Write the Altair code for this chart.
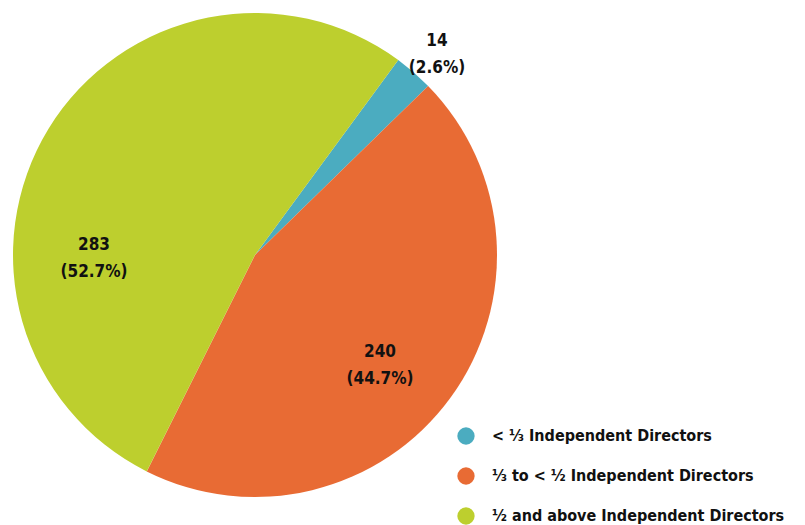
import math
import altair as alt
import pandas as pd

categories = ["< ⅓ Independent Directors", "⅓ to < ½ Independent Directors", "½ and above Independent Directors"]
counts = [14, 240, 283]
percents = ["2.6%", "44.7%", "52.7%"]
colors = ["#4BACC0", "#E86B34", "#BDCF2E"]

df = pd.DataFrame({"category": categories, "count": counts, "pct": percents, "order": [0, 1, 2]})

FONT = "DejaVu Sans Condensed, Roboto Condensed, Arial Narrow, Roboto, sans-serif"
start = math.radians(36.3)
theta_scale = alt.Scale(range=[start, start + 2 * math.pi])
CX, CY, R = 247, 247, 242

base = alt.Chart(df).encode(
    theta=alt.Theta("count:Q", stack=True, scale=theta_scale),
    order=alt.Order("order:Q"),
)

pie = base.mark_arc(stroke=None).encode(
    x=alt.value(CX), y=alt.value(CY), radius=alt.value(R),
    color=alt.Color(
        "category:N",
        scale=alt.Scale(domain=categories, range=colors),
        sort=categories,
        legend=alt.Legend(
            title=None, orient="none", legendX=449, legendY=419,
            symbolType="circle", symbolSize=300, symbolStrokeWidth=0,
            labelFont=FONT, labelFontSize=16, labelFontWeight="bold",
            labelColor="#111111", rowPadding=22, labelOffset=17, padding=0,
            labelLimit=400,
        ),
    ),
)

label_style = {
    categories[0]: dict(radius=271, thetaOffset=math.radians(1.2), dy=-13),
    categories[1]: dict(radius=166, thetaOffset=math.radians(5.0), dy=-12),
    categories[2]: dict(radius=161, thetaOffset=math.radians(-30.8), dy=-8),
}

layers = [pie]
for cat, st in label_style.items():
    t = base.transform_calculate(
        lbl="datum.count + '\\n(' + datum.pct + ')'"
    ).mark_text(
        font=FONT, fontSize=17, fontWeight="bold", color="#111111",
        lineBreak="\n", lineHeight=27, align="center", baseline="middle",
        radius=st["radius"], thetaOffset=st["thetaOffset"], dy=st["dy"],
    ).encode(
        x=alt.value(CX), y=alt.value(CY),
        text=alt.Text("lbl:N"),
        opacity=alt.condition(alt.datum.category == cat, alt.value(1), alt.value(0)),
    )
    layers.append(t)

chart = alt.layer(*layers).properties(
    width=789, height=517,
    autosize=alt.AutoSizeParams(type="none"),
    padding=0,
).configure_view(stroke=None)

chart.save("out.html", embed_options={"renderer": "svg", "actions": False})
